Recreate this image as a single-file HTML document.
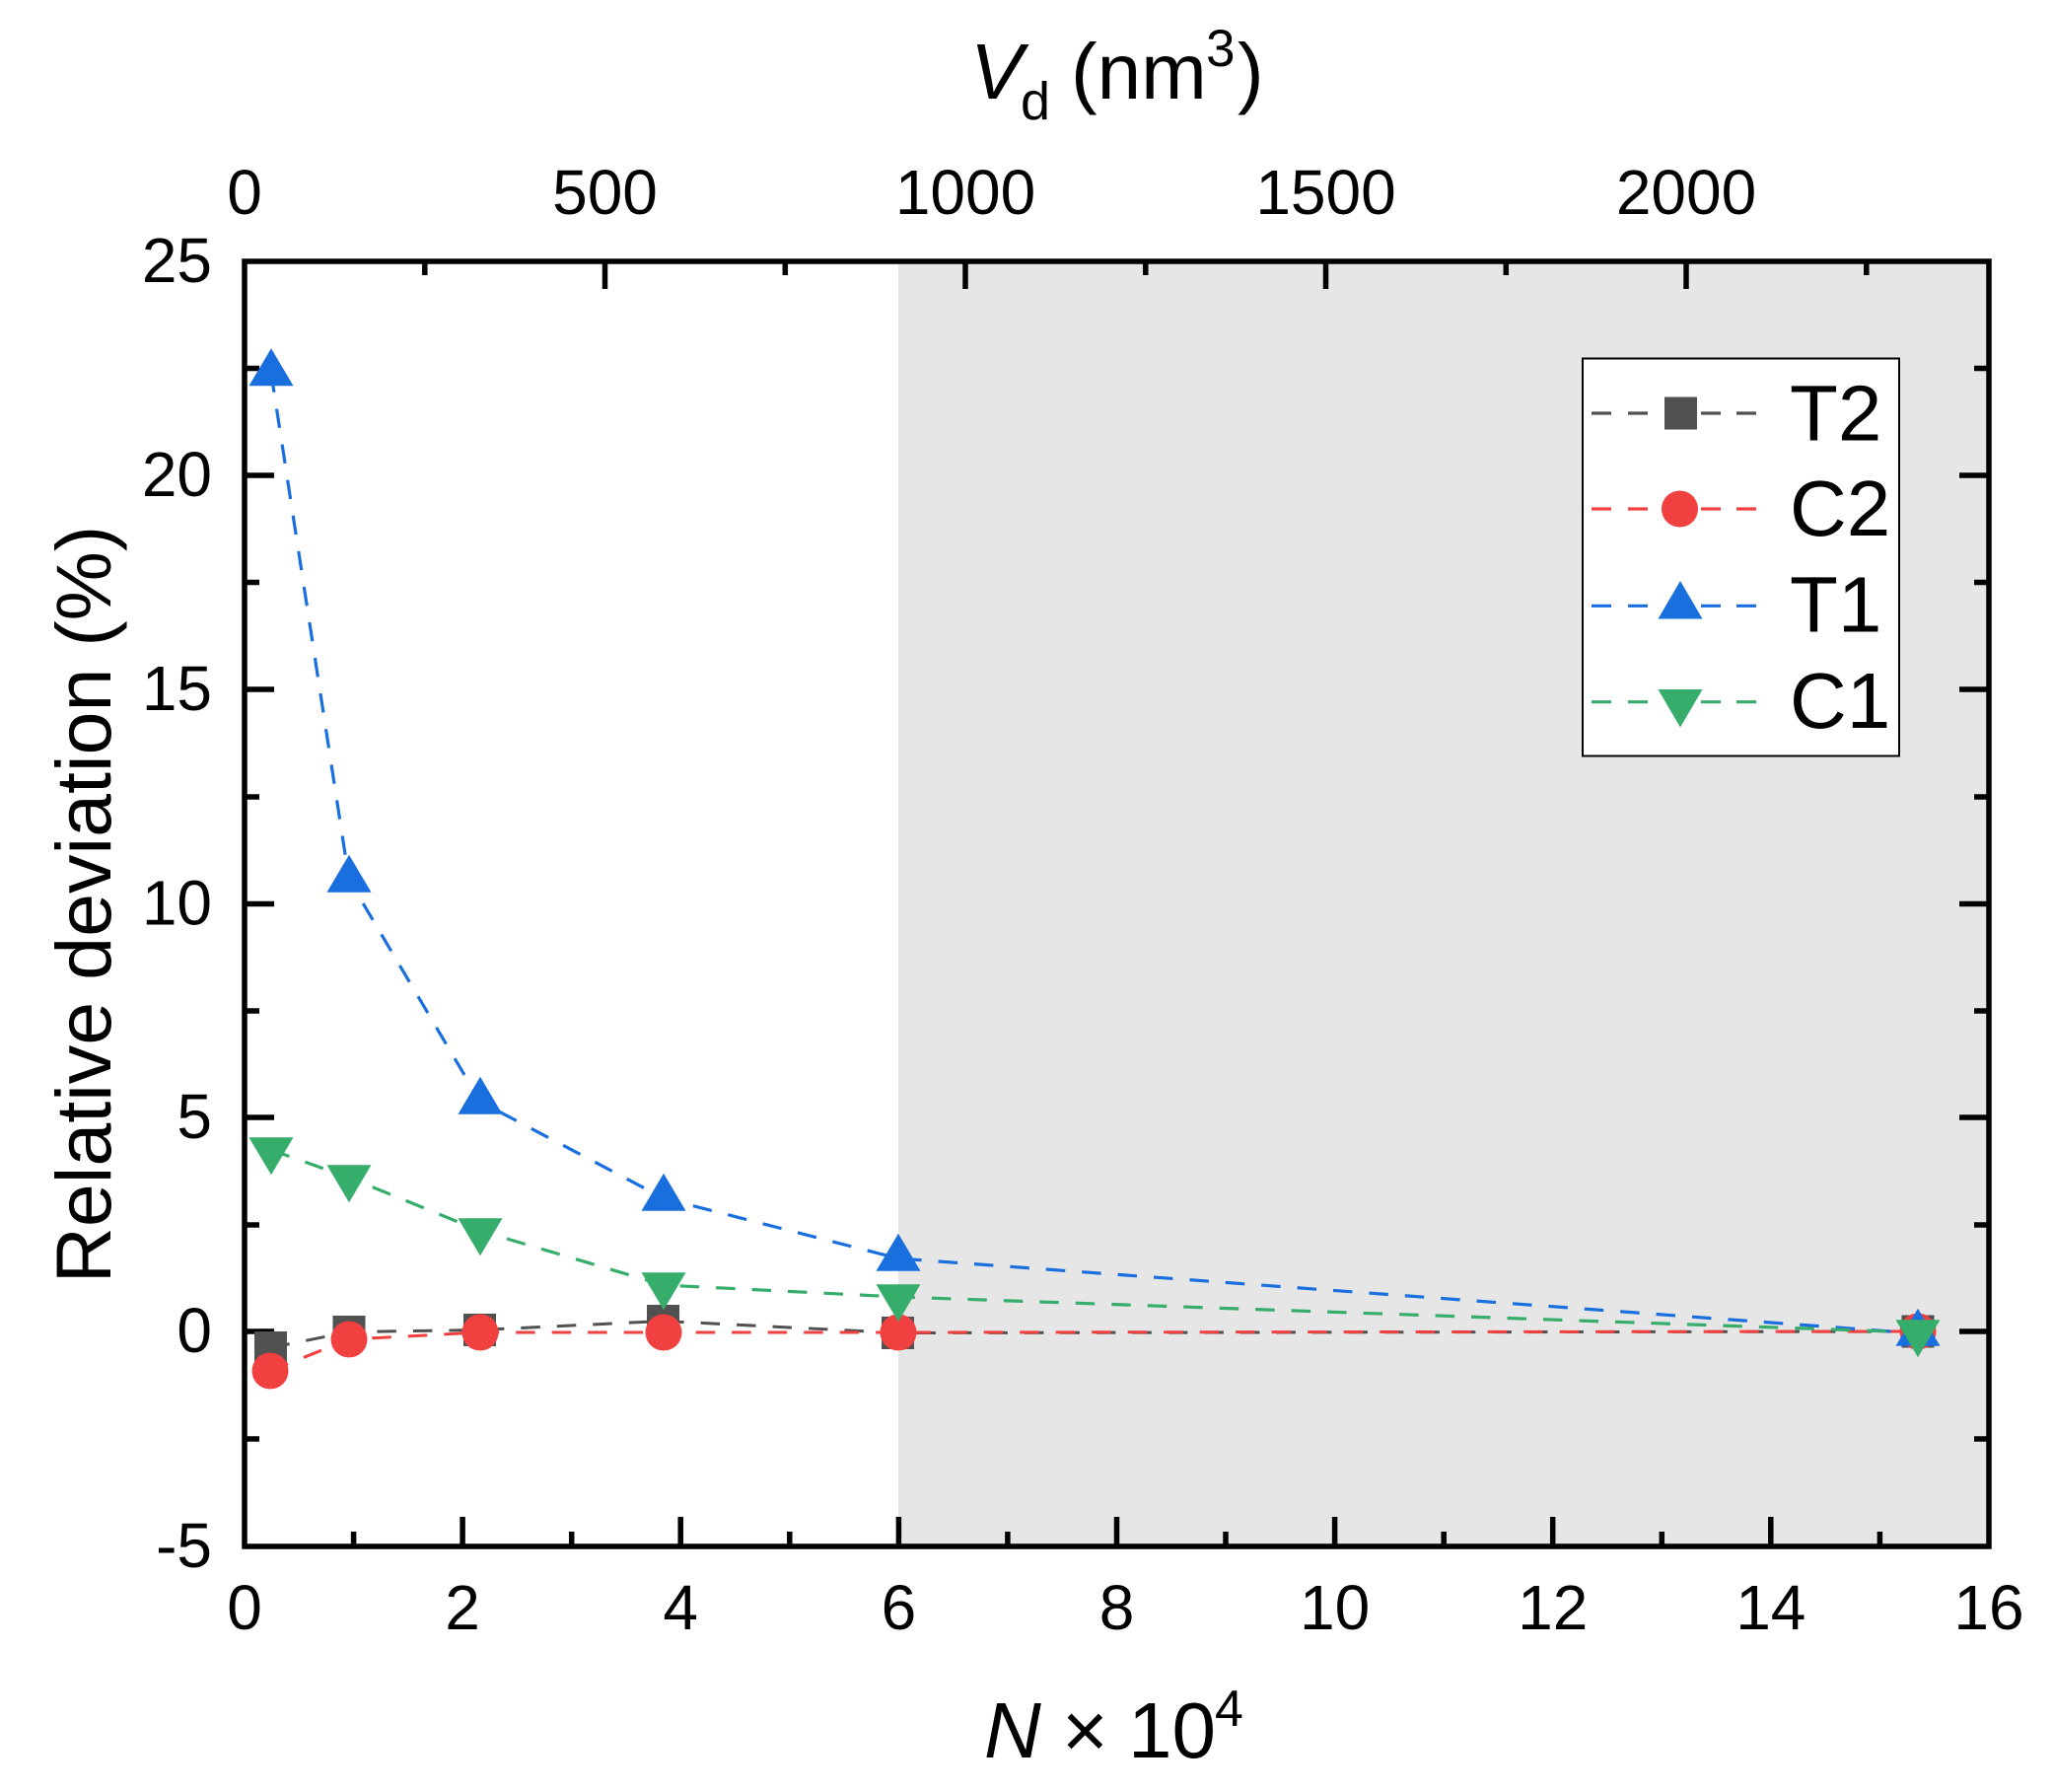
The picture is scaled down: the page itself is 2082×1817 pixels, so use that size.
<!DOCTYPE html>
<html>
<head>
<meta charset="utf-8">
<style>
  html, body { margin: 0; padding: 0; background: #ffffff; }
  svg { display: block; }
  text { font-family: "Liberation Sans", Arial, sans-serif; fill: #000; }
</style>
</head>
<body>
<svg width="2082" height="1817" viewBox="0 0 2082 1817" xmlns="http://www.w3.org/2000/svg">
  <rect x="0" y="0" width="2082" height="1817" fill="#ffffff"/>

  <!-- shaded region x>=6 -->
  <rect x="911" y="265" width="1106" height="1303" fill="#e6e6e6"/>

  <!-- ticks -->
  <g stroke="#000" stroke-width="5.5" fill="none">
    <!-- bottom major (0..16 step 2) -->
    <path d="M469.1 1568V1538 M690.2 1568V1538 M911.4 1568V1538 M1132.5 1568V1538 M1353.6 1568V1538 M1574.7 1568V1538 M1795.8 1568V1538"/>
    <!-- bottom minor -->
    <path d="M358.6 1568V1553 M579.7 1568V1553 M800.8 1568V1553 M1021.9 1568V1553 M1243 1568V1553 M1464.2 1568V1553 M1685.3 1568V1553 M1906.4 1568V1553"/>
    <!-- top major (500..2000) -->
    <path d="M613.5 265V293 M979 265V293 M1344.5 265V293 M1710 265V293"/>
    <!-- top minor -->
    <path d="M430.8 265V279 M796.3 265V279 M1161.8 265V279 M1527.3 265V279 M1892.8 265V279"/>
    <!-- left major -->
    <path d="M248 482H278 M248 699H278 M248 916.5H278 M248 1133H278 M248 1350H278"/>
    <!-- left minor -->
    <path d="M248 373.5H263 M248 590.5H263 M248 808H263 M248 1025H263 M248 1242H263 M248 1459H263"/>
    <!-- right major -->
    <path d="M2017 482H1987 M2017 699H1987 M2017 916.5H1987 M2017 1133H1987 M2017 1350H1987"/>
    <!-- right minor -->
    <path d="M2017 373.5H2002 M2017 590.5H2002 M2017 808H2002 M2017 1025H2002 M2017 1242H2002 M2017 1459H2002"/>
  </g>

  <!-- series T2 -->
  <polyline points="274.5,1366.5 354,1350.5 486.5,1348.5 672.5,1339.5 910.5,1351.5 1945,1350" fill="none" stroke="#515151" stroke-width="3" stroke-dasharray="19.5 17"/>
  <g fill="#515151">
    <rect x="258" y="1350" width="33" height="33"/>
    <rect x="337.5" y="1334" width="33" height="33"/>
    <rect x="470" y="1332" width="33" height="33"/>
    <rect x="656" y="1323" width="33" height="33"/>
    <rect x="894" y="1335" width="33" height="33"/>
    <rect x="1928.5" y="1333.5" width="33" height="33"/>
  </g>

  <!-- series C2 -->
  <polyline points="274,1390 354,1358 487,1351 673,1351 911,1351 1945,1350" fill="none" stroke="#F14040" stroke-width="3" stroke-dasharray="19.5 17"/>
  <g fill="#F14040">
    <circle cx="274" cy="1390" r="18.5"/>
    <circle cx="354" cy="1358" r="18.5"/>
    <circle cx="487" cy="1351" r="18.5"/>
    <circle cx="673" cy="1351" r="18.5"/>
    <circle cx="911" cy="1351" r="18.5"/>
    <circle cx="1945" cy="1350" r="18.5"/>
  </g>

  <!-- series T1 -->
  <polyline points="275,378.5 354,892 487,1117 673,1215 911,1276 1945,1352" fill="none" stroke="#1A6FDF" stroke-width="3.2" stroke-dasharray="19.5 17"/>
  <g fill="#1A6FDF">
    <polygon points="275,353.2 297.5,391.2 252.5,391.2"/>
    <polygon points="354,866.7 376.5,904.7 331.5,904.7"/>
    <polygon points="487,1091.7 509.5,1129.7 464.5,1129.7"/>
    <polygon points="673,1189.7 695.5,1227.7 650.5,1227.7"/>
    <polygon points="911,1250.7 933.5,1288.7 888.5,1288.7"/>
    <polygon points="1945,1326.7 1967.5,1364.7 1922.5,1364.7"/>
  </g>

  <!-- series C1 -->
  <polyline points="275,1166 354,1194 487,1248 673,1303 911,1315 1945,1351" fill="none" stroke="#37AD6B" stroke-width="3.2" stroke-dasharray="19.5 17"/>
  <g fill="#37AD6B">
    <polygon points="252.5,1153.3 297.5,1153.3 275,1191.3"/>
    <polygon points="331.5,1181.3 376.5,1181.3 354,1219.3"/>
    <polygon points="464.5,1235.3 509.5,1235.3 487,1273.3"/>
    <polygon points="650.5,1290.3 695.5,1290.3 673,1328.3"/>
    <polygon points="888.5,1302.3 933.5,1302.3 911,1340.3"/>
    <polygon points="1922.5,1338.3 1967.5,1338.3 1945,1376.3"/>
  </g>

  <!-- frame -->
  <rect x="248" y="265" width="1769" height="1303" fill="none" stroke="#000" stroke-width="5.5"/>

  <!-- legend -->
  <rect x="1605" y="363.5" width="321" height="403" fill="#ffffff" stroke="#000" stroke-width="2"/>
  <g stroke-width="3.2">
    <path d="M1614 419H1634 M1651 419H1671 M1725 419H1745 M1761 419H1781" stroke="#515151"/>
    <path d="M1614 516H1634 M1651 516H1671 M1725 516H1745 M1761 516H1781" stroke="#F14040"/>
    <path d="M1614 614.3H1634 M1651 614.3H1671 M1725 614.3H1745 M1761 614.3H1781" stroke="#1A6FDF"/>
    <path d="M1614 711.7H1634 M1651 711.7H1671 M1725 711.7H1745 M1761 711.7H1781" stroke="#37AD6B"/>
  </g>
  <rect x="1688" y="402.5" width="33" height="33" fill="#515151"/>
  <circle cx="1703.5" cy="516" r="18.5" fill="#F14040"/>
  <polygon points="1704,589 1726.5,627.5 1681.5,627.5" fill="#1A6FDF"/>
  <polygon points="1681.5,699 1726.5,699 1704,737.5" fill="#37AD6B"/>
  <g font-size="80">
    <text x="1815" y="446.5">T2</text>
    <text x="1815" y="543">C2</text>
    <text x="1815" y="640.5">T1</text>
    <text x="1815" y="738">C1</text>
  </g>

  <!-- bottom tick labels -->
  <g font-size="64" text-anchor="middle">
    <text x="248" y="1652">0</text>
    <text x="469.1" y="1652">2</text>
    <text x="690.2" y="1652">4</text>
    <text x="911.4" y="1652">6</text>
    <text x="1132.5" y="1652">8</text>
    <text x="1353.6" y="1652">10</text>
    <text x="1574.7" y="1652">12</text>
    <text x="1795.8" y="1652">14</text>
    <text x="2017" y="1652">16</text>
  </g>

  <!-- top tick labels -->
  <g font-size="64" text-anchor="middle">
    <text x="248" y="217">0</text>
    <text x="613.5" y="217">500</text>
    <text x="979" y="217">1000</text>
    <text x="1344.5" y="217">1500</text>
    <text x="1710" y="217">2000</text>
  </g>

  <!-- left tick labels -->
  <g font-size="64" text-anchor="end">
    <text x="215" y="286">25</text>
    <text x="215" y="503">20</text>
    <text x="215" y="720">15</text>
    <text x="215" y="937.5">10</text>
    <text x="215" y="1154">5</text>
    <text x="215" y="1371">0</text>
    <text x="215" y="1589">-5</text>
  </g>

  <!-- top axis title: V_d (nm^3) -->
  <text font-size="80">
    <tspan x="984" y="100" font-style="italic">V</tspan><tspan x="1035" y="121" font-size="54">d</tspan><tspan x="1086" y="100">(nm</tspan><tspan x="1223" y="67" font-size="53">3</tspan><tspan x="1255" y="100">)</tspan>
  </text>

  <!-- bottom axis title: N × 10^4 -->
  <text font-size="80">
    <tspan x="998" y="1782" font-style="italic">N</tspan><tspan x="1077" y="1782">×</tspan><tspan x="1144" y="1782">10</tspan><tspan x="1232" y="1750" font-size="52">4</tspan>
  </text>

  <!-- y axis title -->
  <text font-size="79" text-anchor="middle" transform="translate(112,917) rotate(-90)">Relative deviation (%)</text>
</svg>
</body>
</html>
